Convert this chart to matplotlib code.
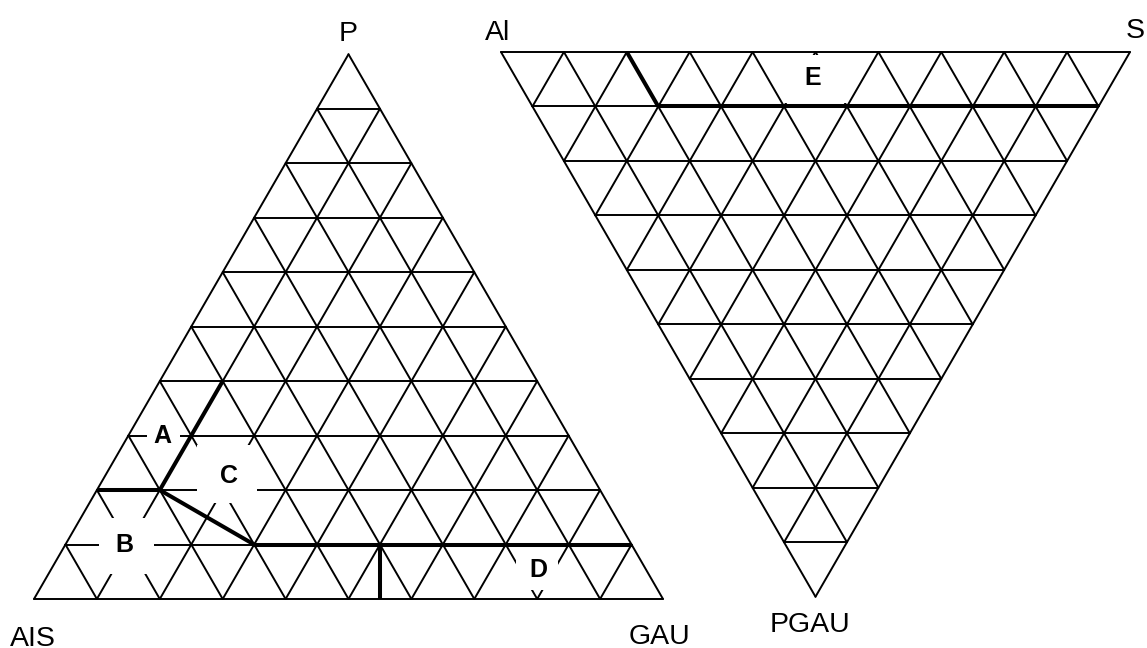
import numpy as np
import matplotlib.pyplot as plt
from matplotlib.patches import Rectangle

plt.rcParams['font.family'] = ['Liberation Sans', 'DejaVu Sans']

n_div = 10

# left diagram, compositions given as (GAU, P) fractions
left_corners = ['P', 'AIS', 'GAU']
left_bounds = [
    [(0.0, 0.2), (0.1, 0.2)],
    [(0.1, 0.2), (0.1, 0.4)],
    [(0.1, 0.2), (0.3, 0.1)],
    [(0.3, 0.1), (0.9, 0.1)],
    [(0.5, 0.1), (0.55, 0.0)],
]
left_fields = ['A', 'B', 'C', 'D']
left_field_pos = [(0.052, 0.303), (0.092, 0.103), (0.195, 0.23), (0.773, 0.057)]

# right diagram, compositions given as (S, PGAU) fractions
right_corners = ['Al', 'S', 'PGAU']
right_bounds = [
    [(0.2, 0.0), (0.2, 0.1)],
    [(0.2, 0.1), (0.9, 0.1)],
]
right_fields = ['E']
right_field_pos = [(0.474, 0.044)]

# figure is drawn in pixel units
W, H = 1147, 648
side = 629
height = side * np.sqrt(3) / 2
DPI = 100


def to_xy(a, b, origin, flip):
    # a along the base, b towards the opposite corner
    x = origin[0] + side * (a + b / 2)
    y = origin[1] + flip * height * b
    return x, y


def text_c(ax, x, y, s, size, weight='normal'):
    # put glyph centre at (x, y)
    cap = 0.716 * size * DPI / 72
    ax.text(x, y + cap / 2, s, fontsize=size, fontweight=weight,
            ha='center', va='baseline', zorder=5)


def draw_ternary(ax, origin, flip, corners, corner_off, bounds, fields, field_pos, boxes):
    # outline and grid
    segs = [[(0, 0), (1, 0)], [(1, 0), (0, 1)], [(0, 1), (0, 0)]]
    for k in range(1, n_div):
        t = k / n_div
        segs.append([(0, t), (1 - t, t)])
        segs.append([(t, 0), (t, 1 - t)])
        segs.append([(t, 0), (0, t)])
    for (a1, b1), (a2, b2) in segs:
        x1, y1 = to_xy(a1, b1, origin, flip)
        x2, y2 = to_xy(a2, b2, origin, flip)
        ax.plot([x1, x2], [y1, y2], color='black', lw=1.4, zorder=1,
                solid_capstyle='round')

    # white boxes behind the field letters (dx, dy, half width, half height)
    for (a, b), (dx, dy, hw, hh) in zip(field_pos, boxes):
        x, y = to_xy(a, b, origin, flip)
        ax.add_patch(Rectangle((x + dx - hw, y + dy - hh), 2 * hw, 2 * hh,
                               facecolor='white', edgecolor='none', zorder=2))

    # field boundaries
    for (a1, b1), (a2, b2) in bounds:
        x1, y1 = to_xy(a1, b1, origin, flip)
        x2, y2 = to_xy(a2, b2, origin, flip)
        ax.plot([x1, x2], [y1, y2], color='black', lw=2.9, zorder=3,
                solid_capstyle='butt')

    for name, (a, b) in zip(fields, field_pos):
        x, y = to_xy(a, b, origin, flip)
        text_c(ax, x, y, name, 18, 'bold')

    # corner names: apex, base start, base end
    verts = [to_xy(0, 1, origin, flip), to_xy(0, 0, origin, flip), to_xy(1, 0, origin, flip)]
    for name, (vx, vy), (dx, dy) in zip(corners, verts, corner_off):
        text_c(ax, vx + dx, vy + dy, name, 20.5)


fig = plt.figure(figsize=(W / DPI, H / DPI), dpi=DPI)
ax = fig.add_axes([0, 0, 1, 1])
ax.set_xlim(0, W)
ax.set_ylim(H, 0)
ax.axis('off')

draw_ternary(ax, (34, 599), -1, left_corners,
             [(0, -23), (-1, 37), (-3, 35)],
             left_bounds, left_fields, left_field_pos,
             [(1.5, 1, 16.5, 16), (2, 3, 27.5, 28), (-2, 0, 30, 29), (-1, 0, 21, 22)])

# right one is upside down: base on top, apex at the bottom
draw_ternary(ax, (501, 52), 1, ['PGAU', 'Al', 'S'],
             [(-5, 25.5), (-3.5, -22.5), (5.5, -24)],
             right_bounds, right_fields, right_field_pos,
             [(2.5, 3.5, 31, 24)])

fig.savefig('out.png', dpi=DPI)
